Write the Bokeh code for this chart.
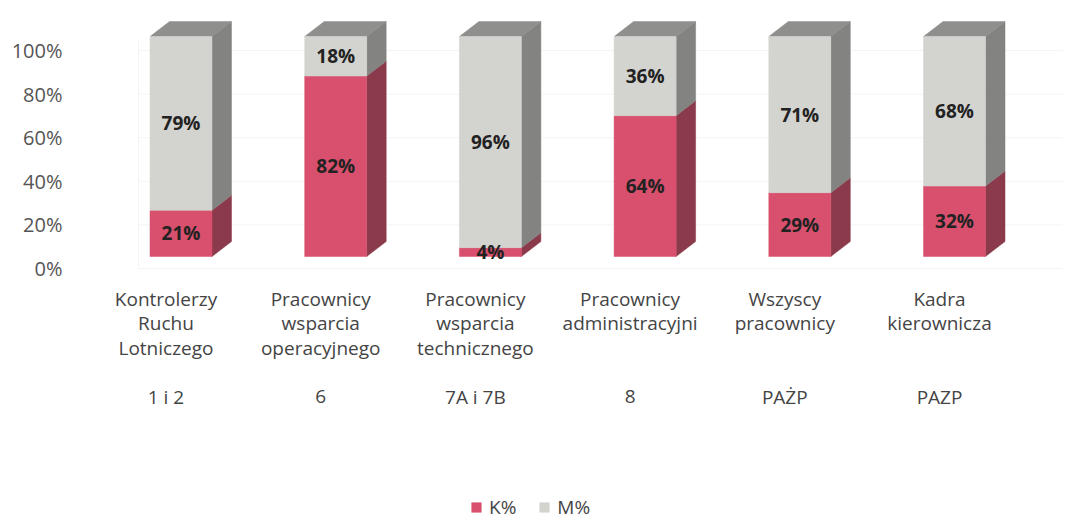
from bokeh.plotting import figure
from bokeh.models import (Range1d, LinearAxis, FixedTicker, PrintfTickFormatter,
                          Legend, LegendItem, ColumnDataSource)
from bokeh.core.properties import value
from bokeh.embed import file_html
from bokeh.resources import INLINE

# ---- data ----
categories = [
    ["Kontrolerzy", "Ruchu", "Lotniczego"],
    ["Pracownicy", "wsparcia", "operacyjnego"],
    ["Pracownicy", "wsparcia", "technicznego"],
    ["Pracownicy", "administracyjni"],
    ["Wszyscy", "pracownicy"],
    ["Kadra", "kierownicza"],
]
groups = ["1 i 2", "6", "7A i 7B", "8", "PAŻP", "PAZP"]
k_pct = [21, 82, 4, 64, 29, 32]
m_pct = [79, 18, 96, 36, 71, 68]
series_names = ["K%", "M%"]
y_ticks = [0, 20, 40, 60, 80, 100]

# ---- styling ----
FONT = "Open Sans"
K_FRONT, K_SIDE = "#d8506d", "#8b3a4b"
M_FRONT, M_SIDE, M_TOP = "#d3d3cf", "#838381", "#8f8f8d"

OFF = 0               # page offset of the figure
W, H = 1077, 522
LEFT = 70
px_x = 154.7          # px per category unit
px_y = 2.2            # px per percent (front plane)
c0_img = 180.5        # image x of first bar centre
base_img = 256.0      # image y of front-face zero
bw = 62 / px_x
dx = 19.5 / px_x
dy = 15 / px_y

x0 = (LEFT + OFF - c0_img) / px_x
x1 = (W + OFF - c0_img) / px_x
ytop = (base_img - OFF) / px_y
ybot = (base_img - (H + OFF)) / px_y

p = figure(width=W, height=H, output_backend="svg", toolbar_location=None,
           x_range=Range1d(x0, x1), y_range=Range1d(ybot, ytop),
           x_axis_type=None, y_axis_type=None,
           min_border_left=LEFT, min_border_right=0, min_border_top=0,
           min_border_bottom=0)
p.outline_line_color = None
p.xgrid.visible = False
p.ygrid.visible = False
p.background_fill_color = "white"
p.border_fill_color = "white"

# back-plane axis range (ticks at 0% -> img 268, 100% -> img 50)
ax_px = 2.18
ax_zero = 268.0
p.extra_y_ranges = {"axis": Range1d((ax_zero - (H + OFF)) / ax_px, (ax_zero - OFF) / ax_px)}
ax = LinearAxis(y_range_name="axis", ticker=FixedTicker(ticks=y_ticks),
                formatter=PrintfTickFormatter(format="%d%%"))
ax.axis_line_color = None
ax.major_tick_line_color = None
ax.minor_tick_line_color = None
ax.major_tick_out = 0
ax.major_tick_in = 0
ax.major_label_standoff = 8
ax.major_label_text_font = FONT
ax.major_label_text_font_size = "20px"
ax.major_label_text_color = "#555555"
p.add_layout(ax, "left")

# faint back-wall gridlines
gx0 = (138 - c0_img) / px_x
gx1 = (1062 - c0_img) / px_x
p.segment(x0=[gx0] * len(y_ticks), x1=[gx1] * len(y_ticks), y0=y_ticks, y1=y_ticks,
          y_range_name="axis", line_color="#f4f4f4", line_width=1)
p.segment(x0=[gx0], x1=[gx0], y0=[0], y1=[y_ticks[-1] + 5], y_range_name="axis",
          line_color="#f4f4f4", line_width=1)

n = len(k_pct)
xs = list(range(n))
tops = [k + m for k, m in zip(k_pct, m_pct)]

# side faces
side_xs, side_ys, side_c = [], [], []
for i in xs:
    xr = i + bw / 2
    for y0_, y1_, c in [(0, k_pct[i], K_SIDE), (k_pct[i], tops[i], M_SIDE)]:
        side_xs.append([xr, xr + dx, xr + dx, xr])
        side_ys.append([y0_, y0_ + dy, y1_ + dy, y1_])
        side_c.append(c)
p.patches(side_xs, side_ys, fill_color=side_c, line_color=side_c, line_width=0.5)

# top faces
top_xs, top_ys = [], []
for i in xs:
    xl, xr = i - bw / 2, i + bw / 2
    top_xs.append([xl, xl + dx, xr + dx, xr])
    top_ys.append([tops[i], tops[i] + dy, tops[i] + dy, tops[i]])
p.patches(top_xs, top_ys, fill_color=M_TOP, line_color=M_TOP, line_width=0.5)

# front faces
src = ColumnDataSource(dict(x=xs, k=k_pct, m=m_pct, top=tops,
                            zero=[0] * n))
rk = p.vbar(x="x", width=bw, bottom="zero", top="k", source=src,
            fill_color=K_FRONT, line_color=K_FRONT, line_width=0.5)
rm = p.vbar(x="x", width=bw, bottom="k", top="top", source=src,
            fill_color=M_FRONT, line_color=M_FRONT, line_width=0.5)

# value labels
lab_x = xs + xs
lab_y = [k / 2 for k in k_pct] + [k + m / 2 for k, m in zip(k_pct, m_pct)]
lab_t = [f"{v}%" for v in k_pct] + [f"{v}%" for v in m_pct]
p.text(x=lab_x, y=lab_y, text=lab_t, text_font=value(FONT), text_font_style="bold",
       text_font_size="19px", text_color="#222222", text_align="center",
       text_baseline="middle")

# category labels
line_img = [298, 322.5, 347]
grp_img = 396
shift = -15 / px_x
cx, cy, ct = [], [], []
for i, lines in enumerate(categories):
    for j, t in enumerate(lines):
        cx.append(i + shift)
        cy.append((base_img - line_img[j]) / px_y)
        ct.append(t)
for i, g in enumerate(groups):
    cx.append(i + shift)
    cy.append((base_img - grp_img) / px_y)
    ct.append(g)
p.text(x=cx, y=cy, text=ct, text_font=value(FONT), text_font_size="19px",
       text_color="#444444", text_align="center", text_baseline="middle")

# legend
legend = Legend(items=[LegendItem(label=series_names[0], renderers=[rk]),
                       LegendItem(label=series_names[1], renderers=[rm])],
                orientation="horizontal", location=(400, 2),
                glyph_width=12, glyph_height=12, label_height=12,
                label_standoff=7, spacing=22, padding=0, margin=0,
                border_line_color=None, background_fill_alpha=0,
                label_text_font=FONT, label_text_font_size="19px",
                label_text_color="#444444")
p.add_layout(legend, "center")

open("out.html", "w").write(file_html(p, INLINE))
